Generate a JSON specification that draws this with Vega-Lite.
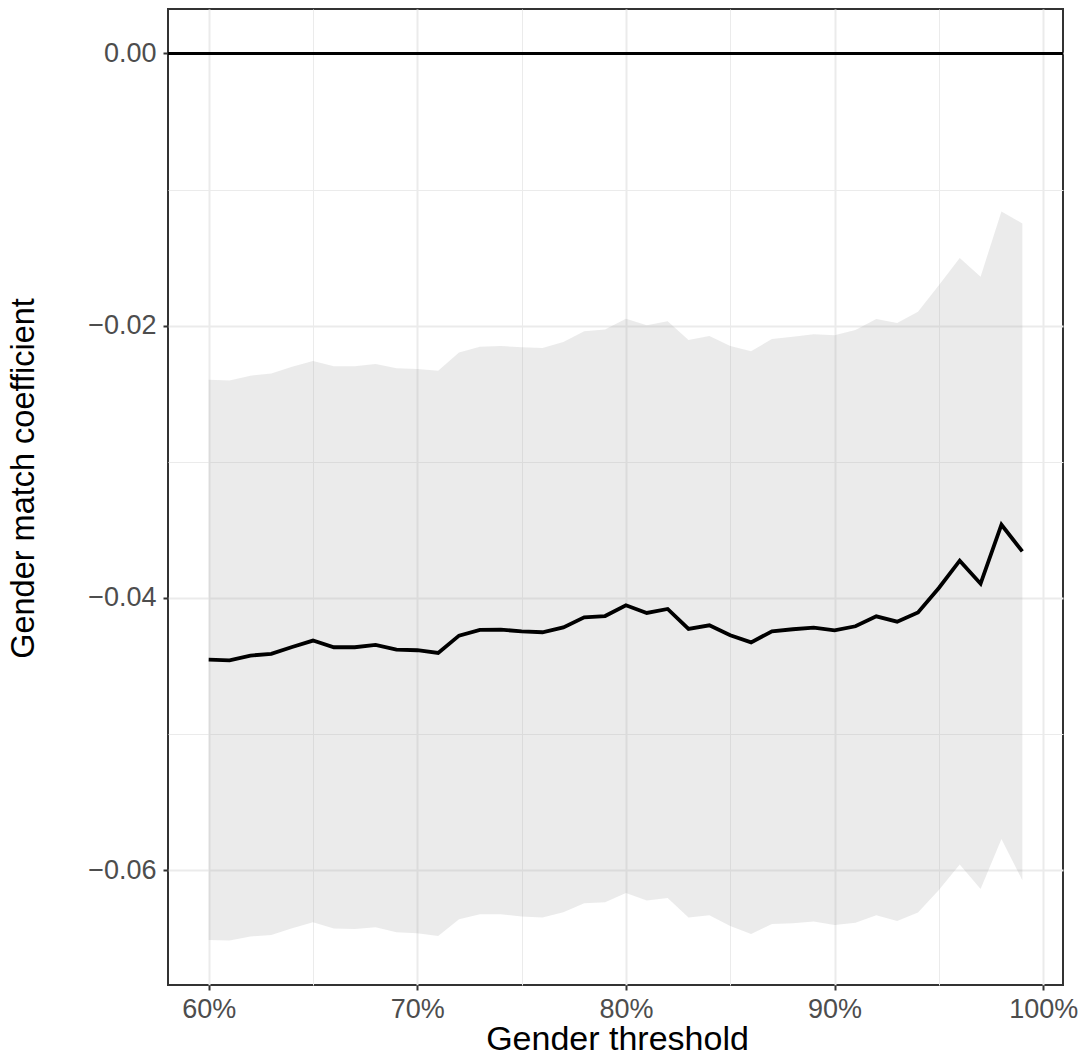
{
  "$schema": "https://vega.github.io/schema/vega-lite/v6.json",
  "width": 895,
  "height": 976,
  "autosize": "none",
  "padding": {"left": 168, "top": 9, "right": 19, "bottom": 74},
  "background": "white",
  "config": {
    "view": {"stroke": "#333333", "strokeWidth": 2},
    "font": "Liberation Sans",
    "axis": {
      "domain": false,
      "labelFont": "Liberation Sans",
      "titleFont": "Liberation Sans",
      "labelColor": "#4D4D4D",
      "titleColor": "#000000",
      "titleFontWeight": "normal",
      "labelFontSize": 27,
      "titleFontSize": 32.5,
      "tickColor": "#333333",
      "tickWidth": 2,
      "tickSize": 5,
      "gridColor": "#EBEBEB"
    }
  },
  "data": {
    "values": [
      {"x": 0.60, "est": -0.04453, "lo": -0.06512, "hi": -0.02398},
      {"x": 0.61, "est": -0.04458, "lo": -0.06517, "hi": -0.02403},
      {"x": 0.62, "est": -0.04423, "lo": -0.06487, "hi": -0.02367},
      {"x": 0.63, "est": -0.04411, "lo": -0.06475, "hi": -0.02352},
      {"x": 0.64, "est": -0.04360, "lo": -0.06426, "hi": -0.02301},
      {"x": 0.65, "est": -0.04313, "lo": -0.06382, "hi": -0.02259},
      {"x": 0.66, "est": -0.04362, "lo": -0.06428, "hi": -0.02298},
      {"x": 0.67, "est": -0.04362, "lo": -0.06431, "hi": -0.02298},
      {"x": 0.68, "est": -0.04345, "lo": -0.06419, "hi": -0.02281},
      {"x": 0.69, "est": -0.04379, "lo": -0.06456, "hi": -0.02313},
      {"x": 0.70, "est": -0.04384, "lo": -0.06463, "hi": -0.02318},
      {"x": 0.71, "est": -0.04404, "lo": -0.06483, "hi": -0.02332},
      {"x": 0.72, "est": -0.04277, "lo": -0.06360, "hi": -0.02198},
      {"x": 0.73, "est": -0.04235, "lo": -0.06324, "hi": -0.02154},
      {"x": 0.74, "est": -0.04233, "lo": -0.06324, "hi": -0.02149},
      {"x": 0.75, "est": -0.04245, "lo": -0.06340, "hi": -0.02158},
      {"x": 0.76, "est": -0.04252, "lo": -0.06348, "hi": -0.02164},
      {"x": 0.77, "est": -0.04216, "lo": -0.06309, "hi": -0.02120},
      {"x": 0.78, "est": -0.04142, "lo": -0.06243, "hi": -0.02041},
      {"x": 0.79, "est": -0.04133, "lo": -0.06236, "hi": -0.02029},
      {"x": 0.80, "est": -0.04054, "lo": -0.06167, "hi": -0.01949},
      {"x": 0.81, "est": -0.04110, "lo": -0.06223, "hi": -0.01997},
      {"x": 0.82, "est": -0.04081, "lo": -0.06204, "hi": -0.01968},
      {"x": 0.83, "est": -0.04228, "lo": -0.06348, "hi": -0.02105},
      {"x": 0.84, "est": -0.04201, "lo": -0.06331, "hi": -0.02076},
      {"x": 0.85, "est": -0.04274, "lo": -0.06409, "hi": -0.02149},
      {"x": 0.86, "est": -0.04326, "lo": -0.06468, "hi": -0.02188},
      {"x": 0.87, "est": -0.04245, "lo": -0.06395, "hi": -0.02098},
      {"x": 0.88, "est": -0.04230, "lo": -0.06390, "hi": -0.02081},
      {"x": 0.89, "est": -0.04218, "lo": -0.06377, "hi": -0.02063},
      {"x": 0.90, "est": -0.04238, "lo": -0.06402, "hi": -0.02070},
      {"x": 0.91, "est": -0.04208, "lo": -0.06385, "hi": -0.02032},
      {"x": 0.92, "est": -0.04135, "lo": -0.06331, "hi": -0.01951},
      {"x": 0.93, "est": -0.04174, "lo": -0.06373, "hi": -0.01980},
      {"x": 0.94, "est": -0.04106, "lo": -0.06311, "hi": -0.01897},
      {"x": 0.95, "est": -0.03927, "lo": -0.06145, "hi": -0.01704},
      {"x": 0.96, "est": -0.03726, "lo": -0.05957, "hi": -0.01503},
      {"x": 0.97, "est": -0.03895, "lo": -0.06138, "hi": -0.01640},
      {"x": 0.98, "est": -0.03462, "lo": -0.05771, "hi": -0.01161},
      {"x": 0.99, "est": -0.03658, "lo": -0.06074, "hi": -0.01249}
    ]
  },
  "encoding": {
    "x": {
      "field": "x",
      "type": "quantitative",
      "scale": {"domain": [0.5805, 1.0095], "nice": false, "zero": false},
      "axis": {
        "title": "Gender threshold",
        "titleFontSize": 34,
        "values": [0.6, 0.65, 0.7, 0.75, 0.8, 0.85, 0.9, 0.95, 1.0],
        "format": ".0%",
        "labelExpr": "round(datum.value*100) % 10 == 0 ? datum.label : ''",
        "labelPadding": 6,
        "labelFlush": false,
        "labelOverlap": false,
        "grid": true,
        "gridWidth": {"condition": {"test": "round(datum.value*100) % 10 != 0", "value": 1}, "value": 2},
        "tickOpacity": {"condition": {"test": "round(datum.value*100) % 10 != 0", "value": 0}, "value": 1},
        "titleBaseline": "alphabetic",
        "titleY": 64,
        "titleX": 449
      }
    },
    "y": {
      "type": "quantitative",
      "scale": {"domain": [-0.06843, 0.00326], "nice": false, "zero": false},
      "axis": {
        "title": "Gender match coefficient",
        "values": [0, -0.01, -0.02, -0.03, -0.04, -0.05, -0.06],
        "format": ".2f",
        "labelExpr": "round(datum.value*100) % 2 == 0 ? datum.label : ''",
        "labelPadding": 7,
        "labelFlush": false,
        "labelOverlap": false,
        "grid": true,
        "gridWidth": {"condition": {"test": "round(datum.value*100) % 2 != 0", "value": 1}, "value": 2},
        "tickOpacity": {"condition": {"test": "round(datum.value*100) % 2 != 0", "value": 0}, "value": 1},
        "titleAngle": 270,
        "titleBaseline": "alphabetic",
        "titleAlign": "center",
        "titleX": -135,
        "titleY": 469
      }
    }
  },
  "layer": [
    {
      "mark": {"type": "area", "color": "#999999", "opacity": 0.2},
      "encoding": {
        "y": {"field": "hi", "type": "quantitative"},
        "y2": {"field": "lo"}
      }
    },
    {
      "mark": {"type": "rule", "color": "#000000", "strokeWidth": 2},
      "encoding": {
        "x": null,
        "y": {"datum": 0, "type": "quantitative"}
      }
    },
    {
      "mark": {"type": "line", "color": "#000000", "strokeWidth": 3.8},
      "encoding": {
        "y": {"field": "est", "type": "quantitative"}
      }
    }
  ]
}
